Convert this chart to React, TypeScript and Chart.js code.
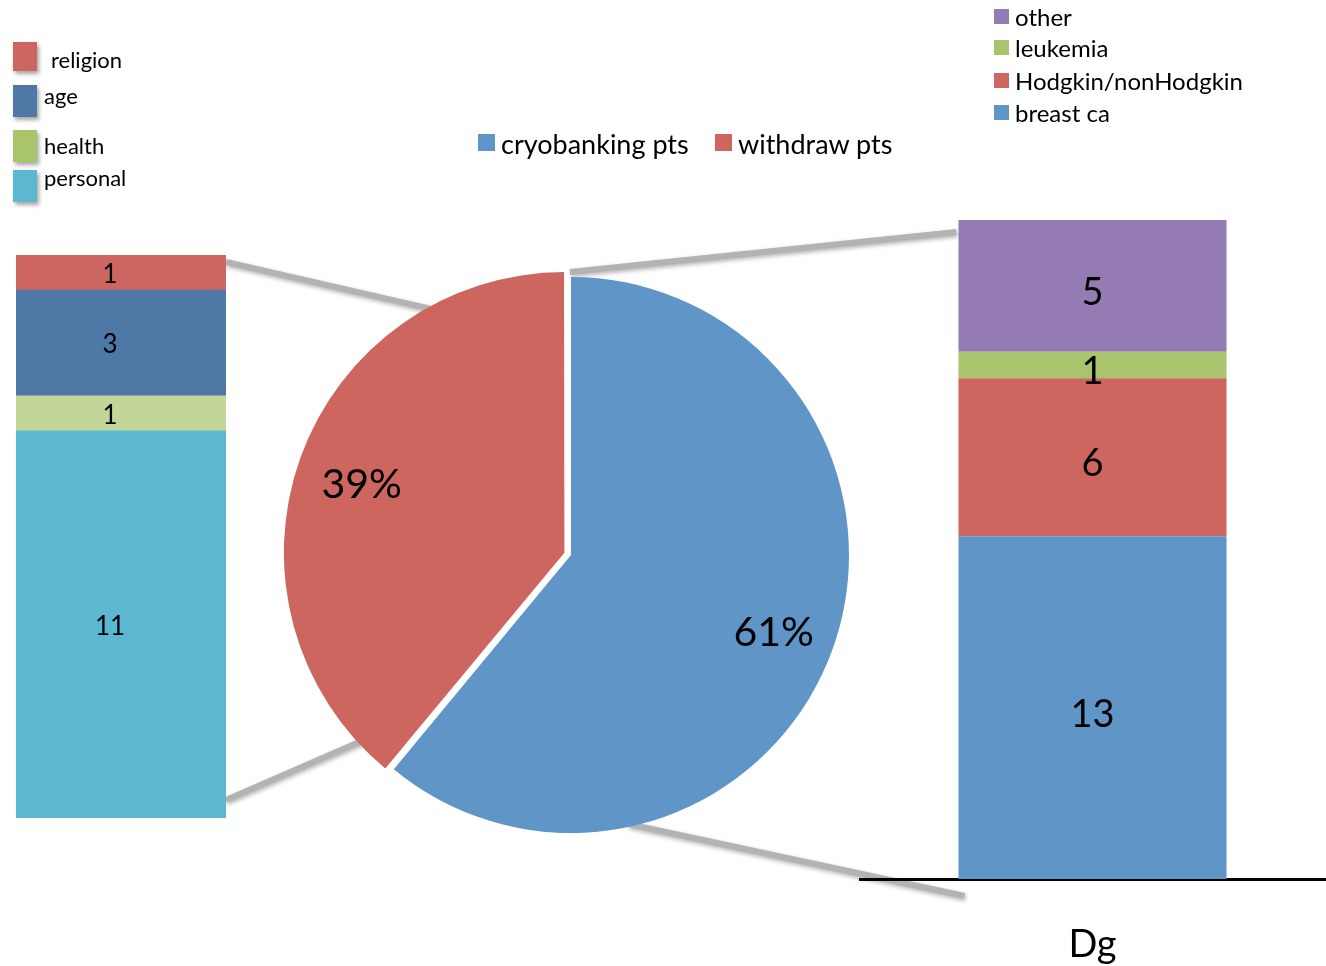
import React, { useEffect, useRef } from "react";
import { Chart, registerables } from "chart.js";

Chart.register(...registerables);

// ---------- data ----------
const withdrawReasons = ["religion", "age", "health", "personal"];
const withdrawCounts = [1, 3, 1, 11];

const pieLabels = ["cryobanking pts", "withdraw pts"];
const piePercents = [61, 39];

const diagnoses = ["other", "leukemia", "Hodgkin/nonHodgkin", "breast ca"];
const diagnosisCounts = [5, 1, 6, 13];
const diagnosisCategory = ["Dg"];

// ---------- styles ----------
const FONT = "Lato, 'Open Sans', 'DejaVu Sans', sans-serif";
const withdrawBarColors = ["#CD6660", "#4E79A7", "#C3D597", "#5BB8D0"];
const withdrawLegendColors = ["#CD6660", "#4E79A7", "#A9C46B", "#5BB8D0"];
const pieColors = ["#6095C8", "#CD665F"];
const diagnosisColors = ["#947BB3", "#AAC46D", "#CD665F", "#6095C8"];

const LEFT_BOX = { left: 16, top: 255, width: 210, height: 563 };
const PIE_BOX = { left: 271, top: 255, width: 600, height: 600 };
const RIGHT_BOX = { left: 859, top: 220, width: 467, height: 746 };
const PIE_RADIUS = 278;
const PIE_OFFSET = 28; // Chart.js translates an arc by offset/4

const leftLegendLayout = [
  { boxTop: 42, boxH: 29, textX: 51, textY: 60 },
  { boxTop: 85, boxH: 32, textX: 44, textY: 96 },
  { boxTop: 130, boxH: 32, textX: 44, textY: 146 },
  { boxTop: 170, boxH: 32, textX: 44, textY: 178 },
];
const rightLegendY = [17, 48, 81, 113];
const pieLegendX = [478, 715];

function barValuePlugin(fontSize: number, dx: number, dy: number) {
  return {
    id: "barValues",
    afterDatasetsDraw(chart: any) {
      const ctx = chart.ctx;
      ctx.save();
      ctx.font = `${fontSize}px ${FONT}`;
      ctx.fillStyle = "#000";
      ctx.textAlign = "center";
      ctx.textBaseline = "middle";
      chart.data.datasets.forEach((ds: any, i: number) => {
        const meta = chart.getDatasetMeta(i);
        meta.data.forEach((el: any, j: number) => {
          ctx.fillText(String(ds.data[j]), el.x + dx, (el.y + el.base) / 2 + dy);
        });
      });
      ctx.restore();
    },
  };
}

const pieLabelPlugin = {
  id: "pieLabels",
  afterDatasetsDraw(chart: any) {
    const ctx = chart.ctx;
    const meta = chart.getDatasetMeta(0);
    ctx.save();
    ctx.font = `41px ${FONT}`;
    ctx.fillStyle = "#000";
    ctx.textAlign = "center";
    ctx.textBaseline = "middle";
    meta.data.forEach((el: any, i: number) => {
      const mid = (el.startAngle + el.endAngle) / 2;
      const off = (el.options.offset || 0) / 4;
      const r = el.outerRadius * 0.775 + off;
      ctx.fillText(
        chart.data.datasets[0].data[i] + "%",
        el.x + Math.cos(mid) * r,
        el.y + Math.sin(mid) * r + 5
      );
    });
    ctx.restore();
  },
};

export default function App() {
  const overlayRef = useRef<HTMLCanvasElement>(null);
  const leftRef = useRef<HTMLCanvasElement>(null);
  const pieRef = useRef<HTMLCanvasElement>(null);
  const rightRef = useRef<HTMLCanvasElement>(null);

  useEffect(() => {
    document.body.style.margin = "0";
    const leftOrder = withdrawReasons.map((_, i) => i).reverse();
    const leftChart = new Chart(leftRef.current as HTMLCanvasElement, {
      type: "bar",
      data: {
        labels: [""],
        datasets: leftOrder.map((i) => ({
          label: withdrawReasons[i],
          data: [withdrawCounts[i]],
          backgroundColor: withdrawBarColors[i],
          borderWidth: 0,
          barPercentage: 1,
          categoryPercentage: 1,
        })),
      },
      options: {
        animation: false,
        responsive: false,
        maintainAspectRatio: false,
        layout: { padding: 0 },
        plugins: { legend: { display: false }, tooltip: { enabled: false } },
        scales: {
          x: { display: false, stacked: true },
          y: {
            display: false,
            stacked: true,
            min: 0,
            max: withdrawCounts.reduce((a, b) => a + b, 0),
          },
        },
      },
      plugins: [barValuePlugin(26, -11, 2)],
    } as any);

    const pieChart = new Chart(pieRef.current as HTMLCanvasElement, {
      type: "pie",
      data: {
        labels: pieLabels,
        datasets: [
          {
            data: piePercents,
            backgroundColor: pieColors,
            borderWidth: 0,
            offset: [0, PIE_OFFSET],
          },
        ],
      },
      options: {
        animation: false,
        responsive: false,
        maintainAspectRatio: false,
        radius: PIE_RADIUS,
        layout: { padding: 0 },
        plugins: { legend: { display: false }, tooltip: { enabled: false } },
      },
      plugins: [pieLabelPlugin],
    } as any);

    const rightOrder = diagnoses.map((_, i) => i).reverse();
    const rightChart = new Chart(rightRef.current as HTMLCanvasElement, {
      type: "bar",
      data: {
        labels: diagnosisCategory,
        datasets: rightOrder.map((i) => ({
          label: diagnoses[i],
          data: [diagnosisCounts[i]],
          backgroundColor: diagnosisColors[i],
          borderWidth: 0,
          barPercentage: 1,
          categoryPercentage: 0.574,
        })),
      },
      options: {
        animation: false,
        responsive: false,
        maintainAspectRatio: false,
        layout: { padding: 0 },
        plugins: { legend: { display: false }, tooltip: { enabled: false } },
        scales: {
          x: {
            stacked: true,
            grid: { display: false, drawTicks: false },
            border: { display: true, color: "#000", width: 3 },
            ticks: { color: "#000", font: { size: 38, family: FONT }, padding: 43 },
            afterFit: (s: any) => {
              s.height = 87;
            },
          },
          y: {
            display: false,
            stacked: true,
            min: 0,
            max: diagnosisCounts.reduce((a, b) => a + b, 0),
          },
        },
      },
      plugins: [barValuePlugin(38, 0, 7)],
    } as any);

    // connector lines, from library geometry
    const oc = overlayRef.current as HTMLCanvasElement;
    const ctx = oc.getContext("2d") as CanvasRenderingContext2D;
    ctx.clearRect(0, 0, oc.width, oc.height);
    const lTop: any = leftChart.getDatasetMeta(leftOrder.length - 1).data[0];
    const lBot: any = leftChart.getDatasetMeta(0).data[0];
    const leftRight = LEFT_BOX.left + lTop.x + lTop.width / 2;
    const leftTop = LEFT_BOX.top + lTop.y;
    const leftBottom = LEFT_BOX.top + lBot.base;

    const blue: any = pieChart.getDatasetMeta(0).data[0];
    const red: any = pieChart.getDatasetMeta(0).data[1];
    const bcx = PIE_BOX.left + blue.x;
    const bcy = PIE_BOX.top + blue.y;
    const r = blue.outerRadius;
    const redMid = (red.startAngle + red.endAngle) / 2;
    const rcx = bcx + Math.cos(redMid) * (PIE_OFFSET / 4);
    const rcy = bcy + Math.sin(redMid) * (PIE_OFFSET / 4);
    const ang = (degFromTop: number) => ((degFromTop - 90) * Math.PI) / 180;

    const rTop: any = rightChart.getDatasetMeta(rightOrder.length - 1).data[0];
    const rBot: any = rightChart.getDatasetMeta(0).data[0];
    const rightLeft = RIGHT_BOX.left + rTop.x - rTop.width / 2;
    const rightTop = RIGHT_BOX.top + rTop.y;
    const rightBottom = RIGHT_BOX.top + rBot.base;

    const lines = [
      [leftRight, leftTop + 7, rcx + Math.cos(ang(332)) * (r - 3), rcy + Math.sin(ang(332)) * (r - 3)],
      [leftRight, leftBottom - 18, rcx + Math.cos(ang(227)) * (r - 3), rcy + Math.sin(ang(227)) * (r - 3)],
      [bcx - 1, bcy - r - 5, rightLeft - 2, rightTop + 12],
      [bcx + Math.cos(ang(168)) * (r - 3), bcy + Math.sin(ang(168)) * (r - 3), rightLeft + 6, rightBottom + 17],
    ];
    ctx.save();
    ctx.strokeStyle = "#B3B3B3";
    ctx.lineWidth = 6;
    ctx.lineCap = "butt";
    ctx.shadowColor = "rgba(0,0,0,0.3)";
    ctx.shadowBlur = 4;
    ctx.shadowOffsetX = 1;
    ctx.shadowOffsetY = 2;
    lines.forEach(([x1, y1, x2, y2]) => {
      ctx.beginPath();
      ctx.moveTo(x1, y1);
      ctx.lineTo(x2, y2);
      ctx.stroke();
    });
    ctx.restore();

    return () => {
      leftChart.destroy();
      pieChart.destroy();
      rightChart.destroy();
    };
  }, []);

  const abs = (b: { left: number; top: number; width: number; height: number }) => ({
    position: "absolute" as const,
    left: b.left,
    top: b.top,
    width: b.width,
    height: b.height,
  });

  return (
    <div
      style={{
        position: "absolute",
        left: 0,
        top: 0,
        width: 1326,
        height: 966,
        overflow: "hidden",
        background: "#fff",
        fontFamily: FONT,
        color: "#000",
      }}
    >
      <canvas ref={overlayRef} width={1326} height={966} style={abs({ left: 0, top: 0, width: 1326, height: 966 })} />
      <canvas ref={leftRef} width={LEFT_BOX.width} height={LEFT_BOX.height} style={abs(LEFT_BOX)} />
      <canvas ref={pieRef} width={PIE_BOX.width} height={PIE_BOX.height} style={abs(PIE_BOX)} />
      <canvas ref={rightRef} width={RIGHT_BOX.width} height={RIGHT_BOX.height} style={abs(RIGHT_BOX)} />

      {/* left legend */}
      {withdrawReasons.map((name, i) => {
        const L = leftLegendLayout[i];
        return (
          <React.Fragment key={name}>
            <div
              style={{
                position: "absolute",
                left: 13,
                top: L.boxTop,
                width: 24,
                height: L.boxH,
                background: withdrawLegendColors[i],
                boxShadow: "2px 3px 4px rgba(0,0,0,0.35)",
              }}
            />
            <div
              style={{
                position: "absolute",
                left: L.textX,
                top: L.textY,
                transform: "translateY(-50%)",
                fontSize: 22,
                lineHeight: "26px",
                whiteSpace: "nowrap",
              }}
            >
              {name}
            </div>
          </React.Fragment>
        );
      })}

      {/* pie legend */}
      {pieLabels.map((name, i) => (
        <React.Fragment key={name}>
          <div
            style={{
              position: "absolute",
              left: pieLegendX[i],
              top: 134,
              width: 17,
              height: 17,
              background: pieColors[i],
            }}
          />
          <div
            style={{
              position: "absolute",
              left: pieLegendX[i] + 23,
              top: 144,
              transform: "translateY(-50%)",
              fontSize: 27,
              lineHeight: "30px",
              whiteSpace: "nowrap",
            }}
          >
            {name}
          </div>
        </React.Fragment>
      ))}

      {/* right legend */}
      {diagnoses.map((name, i) => (
        <React.Fragment key={name}>
          <div
            style={{
              position: "absolute",
              left: 994,
              top: rightLegendY[i] - 8,
              width: 15,
              height: 15,
              background: diagnosisColors[i],
            }}
          />
          <div
            style={{
              position: "absolute",
              left: 1015,
              top: rightLegendY[i],
              transform: "translateY(-50%)",
              fontSize: 24,
              lineHeight: "28px",
              whiteSpace: "nowrap",
            }}
          >
            {name}
          </div>
        </React.Fragment>
      ))}
    </div>
  );
}
